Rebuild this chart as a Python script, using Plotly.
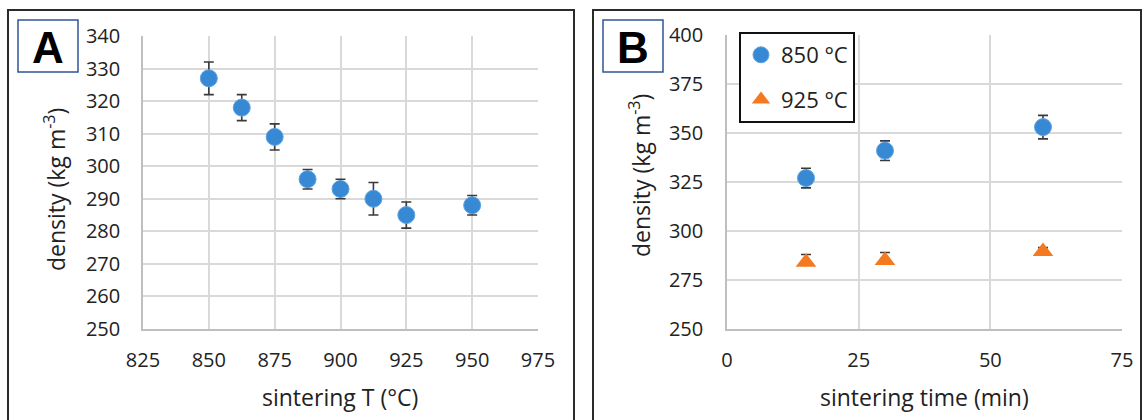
import plotly.graph_objects as go

# ---- data ----
temp_A = [850, 862.5, 875, 887.5, 900, 912.5, 925, 950]
dens_A = [327, 318, 309, 296, 293, 290, 285, 288]
err_A = [5, 4, 4, 3, 3, 5, 4, 3]

time_B = [15, 30, 60]
dens_850 = [327, 341, 353]
err_850 = [5, 5, 6]
dens_925 = [284, 285, 289.5]
err_925_up = [4, 4, 2]
err_925_down = [0, 0, 0]

series_names = ["850 °C", "925 °C"]

W, H = 1145, 420
def px(x):
    return x / W
def py(y):
    return 1 - y / H

BLUE = "#3889D4"
BLUE_EDGE = "#5DA3E3"
ORANGE = "#F5791F"
ERR = "#3a3a3a"
GRID = "#d9d9d9"
AXL = "#bfbfbf"
TXT = "#222222"
FONT = "Open Sans"

fig = go.Figure()

fig.add_trace(go.Scatter(
    x=temp_A, y=dens_A, mode="markers", showlegend=False,
    xaxis="x", yaxis="y",
    marker=dict(symbol="circle", size=17, color=BLUE, line=dict(color=BLUE_EDGE, width=1)),
    error_y=dict(type="data", array=err_A, visible=True, color=ERR, thickness=1.6, width=5),
))

fig.add_trace(go.Scatter(
    x=time_B, y=dens_850, mode="markers", name=series_names[0],
    legendgroup="a", xaxis="x2", yaxis="y2",
    marker=dict(symbol="circle", size=17, color=BLUE, line=dict(color=BLUE_EDGE, width=1)),
    error_y=dict(type="data", array=err_850, visible=True, color=ERR, thickness=1.6, width=5),
))
fig.add_trace(go.Scatter(
    x=time_B, y=dens_925, mode="markers", name=series_names[1],
    legendgroup="b", xaxis="x2", yaxis="y2",
    marker=dict(symbol="triangle-up", size=18, color=ORANGE, line=dict(color=ORANGE, width=0)),
    error_y=dict(type="data", symmetric=False, array=err_925_up, arrayminus=err_925_down,
                 visible=True, color=ERR, thickness=1.6, width=5),
))

axis_common = dict(
    showgrid=True, gridcolor=GRID, gridwidth=1.5,
    showline=True, linecolor=AXL, linewidth=1.5,
    zeroline=False, ticks="", fixedrange=True, automargin=False,
    tickfont=dict(family=FONT, size=20, color=TXT),
)

fig.update_layout(
    template="none",
    width=W, height=H,
    margin=dict(l=0, r=0, t=0, b=0, pad=0, autoexpand=False),
    paper_bgcolor="white", plot_bgcolor="white",
    font=dict(family=FONT, color=TXT),
    xaxis=dict(domain=[px(143), px(538)], range=[825, 975], tick0=825, dtick=25,
               anchor="y", ticklabelstandoff=12, **axis_common),
    yaxis=dict(domain=[py(329), py(36)], range=[250, 340], tick0=250, dtick=10,
               anchor="x", ticklabelstandoff=17, **axis_common),
    xaxis2=dict(domain=[px(727), px(1122)], range=[0, 75], tick0=0, dtick=25,
                anchor="y2", ticklabelstandoff=12, **axis_common),
    yaxis2=dict(domain=[py(329), py(35)], range=[250, 400], tick0=250, dtick=25,
                anchor="x2", ticklabelstandoff=18, **axis_common),
    showlegend=True,
    legend=dict(
        x=px(739), y=py(32), xanchor="left", yanchor="top",
        bgcolor="white", bordercolor="#111111", borderwidth=2,
        font=dict(family=FONT, size=22, color=TXT),
        tracegroupgap=13, traceorder="grouped", itemwidth=30,
    ),
)

shapes = [
    # panel frames
    dict(type="rect", xref="paper", yref="paper", x0=px(8), x1=px(574), y0=-0.1, y1=py(10),
         line=dict(color="#2b2b2b", width=2), fillcolor="rgba(0,0,0,0)", layer="below"),
    dict(type="rect", xref="paper", yref="paper", x0=px(593), x1=px(1141), y0=-0.1, y1=py(10),
         line=dict(color="#2b2b2b", width=2), fillcolor="rgba(0,0,0,0)", layer="below"),
    # letter boxes
    dict(type="rect", xref="paper", yref="paper", x0=px(18), x1=px(78), y0=py(72), y1=py(20),
         line=dict(color="#2F5597", width=1.5), fillcolor="white"),
    dict(type="rect", xref="paper", yref="paper", x0=px(603), x1=px(663), y0=py(72), y1=py(20),
         line=dict(color="#2F5597", width=1.5), fillcolor="white"),
]
fig.update_layout(shapes=shapes)

ann = [
    dict(text="<b>A</b>", x=px(48), y=py(47), font=dict(family="Liberation Sans", size=44, color="black")),
    dict(text="<b>B</b>", x=px(633), y=py(47), font=dict(family="Liberation Sans", size=44, color="black")),
    dict(text="density (kg m<sup>-3</sup>)", x=px(55), y=py(190), textangle=-90,
         font=dict(family=FONT, size=23, color=TXT)),
    dict(text="density (kg m<sup>-3</sup>)", x=px(640), y=py(176), textangle=-90,
         font=dict(family=FONT, size=23, color=TXT)),
    dict(text="sintering T (°C)", x=px(340), y=py(397), font=dict(family=FONT, size=23, color=TXT)),
    dict(text="sintering time (min)", x=px(924), y=py(397), font=dict(family=FONT, size=23, color=TXT)),
]
for a in ann:
    a.update(xref="paper", yref="paper", showarrow=False, xanchor="center", yanchor="middle")
fig.update_layout(annotations=ann)

fig.write_html("out.html")
